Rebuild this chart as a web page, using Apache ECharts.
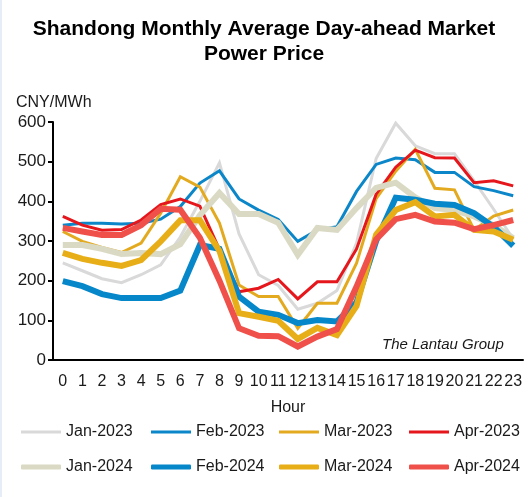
<!DOCTYPE html>
<html>
<head>
<meta charset="utf-8">
<title>Shandong Day-ahead Price</title>
<script src="https://cdn.jsdelivr.net/npm/echarts@6/dist/echarts.min.js"></script>
<style>
  html, body { margin: 0; padding: 0; background: #fff; }
  #chart { width: 528px; height: 497px; }
</style>
</head>
<body>
<div id="chart"></div>
<script>
/* 数据部分 */
// 小时
var HOURS = ["0","1","2","3","4","5","6","7","8","9","10","11","12","13","14","15","16","17","18","19","20","21","22","23"];
// 图例名称
var NAMES = ["Jan-2023","Feb-2023","Mar-2023","Apr-2023","Jan-2024","Feb-2024","Mar-2024","Apr-2024"];
// 各月份每小时平均电价 (CNY/MWh)
var jan2023 = [245, 225, 205, 195, 215, 240, 310, 400, 497, 318, 215, 188, 128, 143, 175, 295, 508, 597, 540, 520, 520, 452, 380, 305];
var feb2023 = [340, 345, 345, 343, 345, 355, 387, 446, 477, 406, 378, 354, 299, 328, 336, 425, 493, 509, 505, 473, 473, 437, 427, 414];
var mar2023 = [324, 299, 284, 271, 295, 370, 462, 436, 345, 189, 160, 160, 80, 143, 143, 244, 407, 476, 531, 433, 429, 328, 363, 378];
var apr2023 = [362, 340, 327, 329, 353, 392, 406, 388, 278, 172, 181, 203, 154, 197, 197, 280, 418, 486, 529, 510, 509, 447, 452, 439];
var jan2024 = [290, 290, 280, 267, 270, 267, 292, 365, 421, 368, 368, 346, 265, 333, 328, 383, 434, 447, 410, 383, 378, 362, 340, 307];
var feb2024 = [199, 186, 166, 156, 156, 156, 175, 290, 280, 160, 122, 114, 93, 101, 97, 145, 300, 409, 404, 394, 391, 370, 336, 288];
var mar2024 = [270, 255, 245, 237, 252, 299, 352, 352, 275, 118, 109, 99, 53, 81, 63, 136, 316, 378, 398, 362, 366, 328, 324, 303];
var apr2024 = [333, 324, 315, 315, 340, 381, 379, 308, 200, 80, 61, 60, 34, 59, 78, 185, 304, 355, 366, 349, 346, 330, 340, 353];

var SERIES_DATA = [jan2023, feb2023, mar2023, apr2023, jan2024, feb2024, mar2024, apr2024];
var COLORS = ["#D9D9D9", "#0B86C8", "#E3AA20", "#E5171C", "#DADAC4", "#0587CA", "#E8AE17", "#F0504A"];

var FONT = "'Liberation Sans', Arial, sans-serif";

/* 生成折线系列 */
function buildSeries() {
	var arr = [];
	for (var i = 0; i < SERIES_DATA.length; i++) {
		// 2024 年的线更粗
		var thick = i >= 4;
		arr.push({
			name: NAMES[i],
			type: "line",
			data: SERIES_DATA[i],
			symbol: "none",
			color: COLORS[i],
			lineStyle: { color: COLORS[i], width: thick ? 6 : 3, join: "miter" },
			z: 2 + i
		});
	}
	return arr;
}

/* 图例：每一项单独定位，两行四列 */
function buildLegends() {
	var lefts = [21, 151, 279, 409];
	var arr = [];
	for (var i = 0; i < NAMES.length; i++) {
		var row = Math.floor(i / 4);
		arr.push({
			data: [NAMES[i]],
			top: row === 0 ? 424 : 459,
			left: lefts[i % 4],
			padding: 0,
			icon: row === 0 ? "rect" : "roundRect",
			itemWidth: 40,
			itemHeight: row === 0 ? 3 : 5,
			textStyle: { fontFamily: FONT, fontSize: 16, color: "#1a1a1a" }
		});
	}
	return arr;
}

var chart = echarts.init(document.getElementById("chart"));

chart.setOption({
	animation: false,
	backgroundColor: "#fff",
	title: {
		text: "Shandong Monthly Average Day-ahead Market\nPower Price",
		left: "center",
		top: 12,
		textStyle: { fontFamily: FONT, fontSize: 21, fontWeight: "bold", color: "#000", lineHeight: 25 }
	},
	legend: buildLegends(),
	grid: { left: 53, right: 5, top: 122, bottom: 137 },
	xAxis: {
		type: "category",
		data: HOURS,
		boundaryGap: true,
		name: "Hour",
		nameLocation: "middle",
		nameGap: 40,
		nameTextStyle: { fontFamily: FONT, fontSize: 16, color: "#1a1a1a" },
		axisLine: { lineStyle: { color: "#000", width: 2 } },
		axisTick: { show: false },
		axisLabel: { fontFamily: FONT, fontSize: 16, color: "#1a1a1a", margin: 14, interval: 0 }
	},
	yAxis: {
		type: "value",
		min: 0,
		max: 600,
		interval: 100,
		axisLine: { show: true, lineStyle: { color: "#000", width: 2 } },
		axisTick: { show: true, length: 5, lineStyle: { color: "#000", width: 2 } },
		axisLabel: { fontFamily: FONT, fontSize: 17, color: "#1a1a1a", margin: 7 },
		splitLine: { show: false }
	},
	graphic: [
		// 左侧浅色边
		{ type: "rect", left: 0, top: 0, shape: { width: 2, height: 497 }, style: { fill: "#E6EDF7" } },
		// 单位
		{ type: "text", left: 16, top: 95, style: { text: "CNY/MWh", font: "16px " + FONT, fill: "#1a1a1a" } },
		// 来源
		{ type: "text", left: 382, top: 337, style: { text: "The Lantau Group", font: "italic 15px " + FONT, fill: "#1a1a1a" } }
	],
	series: buildSeries()
});
</script>
</body>
</html>
